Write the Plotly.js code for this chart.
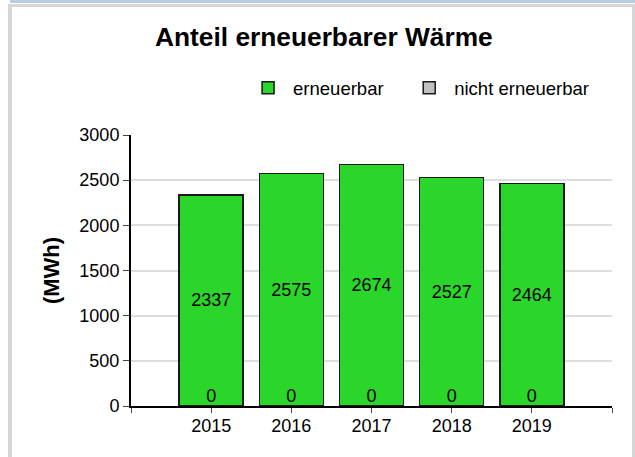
<!DOCTYPE html>
<html>
<head>
<meta charset="utf-8">
<script src="https://cdn.plot.ly/plotly-3.0.1.min.js"></script>
<style>
  body { margin: 0; background: #fff; width: 635px; height: 457px; overflow: hidden; position: relative; }
  #strip { position: absolute; left: 10px; top: 0; width: 625px; height: 3px; background: #b9cde4; }
  #frame { position: absolute; left: 8px; top: 4px; width: 620px; height: 453px;
           border-left: 4px solid #d6d6d6; border-top: 3px solid #d6d6d6; border-right: 3px solid #d6d6d6; }
  #plot { width: 620px; height: 450px; }
</style>
</head>
<body>
<div id="strip"></div>
<div id="frame"><div id="plot"></div></div>
<script>
// data
let years = [2015, 2016, 2017, 2018, 2019]
let erneuerbar = [2337, 2575, 2674, 2527, 2464]
let nichtErneuerbar = [0, 0, 0, 0, 0]
let seriesNames = ["erneuerbar", "nicht erneuerbar"]

// ticks incl. empty ones at both ends of the axis
let tickYears = [years[0] - 1].concat(years, [years[years.length - 1] + 1])
let tickText = tickYears.map(function (y) { return years.indexOf(y) >= 0 ? String(y) : "" })

let font = "Liberation Sans, Arial, sans-serif"

let trace1 = {
  x: years,
  y: erneuerbar,
  name: seriesNames[0],
  legend: "legend",
  type: "bar",
  width: 0.8,
  marker: { color: "#2bd62b", line: { color: "#1a1a1a", width: 1.5 } },
  text: erneuerbar.map(String),
  textposition: "inside",
  insidetextanchor: "middle",
  textangle: 0,
  textfont: { color: "#000", size: 18, family: font },
  hoverinfo: "x+y+name"
}
let trace2 = {
  x: years,
  y: nichtErneuerbar,
  name: seriesNames[1],
  legend: "legend2",
  type: "bar",
  width: 0.8,
  marker: { color: "#c0c0c0", line: { color: "#1a1a1a", width: 1.5 } },
  hoverinfo: "x+y+name"
}
// the zero values are printed at the foot of each bar
let trace3 = {
  x: years,
  y: nichtErneuerbar,
  mode: "text",
  type: "scatter",
  text: nichtErneuerbar.map(String),
  textposition: "top center",
  textfont: { color: "#000", size: 18, family: font },
  showlegend: false,
  hoverinfo: "skip"
}

let data = [trace1, trace2, trace3]

// one legend per series so each entry sits where the original has it
let legendBase = {
  orientation: "h",
  xanchor: "left",
  y: 1.173, yanchor: "middle",
  font: { size: 18.5, family: font },
  itemwidth: 40,
  itemclick: false
}

let layout = {
  width: 620,
  height: 450,
  paper_bgcolor: "#fff",
  plot_bgcolor: "#fff",
  font: { family: font, color: "#000" },
  barmode: "stack",
  margin: { l: 119, r: 20, t: 128, b: 51, pad: 0 },
  title: {
    text: "<b>Anteil erneuerbarer Wärme</b>",
    font: { size: 26.3, family: font, color: "#000" },
    x: 0.503, xanchor: "center",
    y: 0.933, yanchor: "middle", yref: "container"
  },
  showlegend: true,
  legend: Object.assign({}, legendBase, { x: 0.233 }),
  legend2: Object.assign({}, legendBase, { x: 0.568 }),
  xaxis: {
    range: [tickYears[0], tickYears[tickYears.length - 1]],
    tickvals: tickYears,
    ticktext: tickText,
    showgrid: false,
    zeroline: false,
    showline: true,
    linecolor: "#000",
    linewidth: 2,
    ticks: "outside",
    ticklen: 2,
    tickcolor: "#444",
    minor: { tick0: tickYears[0], dtick: 1, ticks: "outside", ticklen: 5, tickcolor: "#444" },
    tickfont: { size: 18, family: font },
    fixedrange: true
  },
  yaxis: {
    range: [0, 3000],
    dtick: 500,
    showgrid: true,
    gridcolor: "#dedede",
    gridwidth: 2,
    zeroline: false,
    showline: true,
    linecolor: "#000",
    linewidth: 2,
    ticks: "outside",
    ticklen: 6,
    tickcolor: "#444",
    tickfont: { size: 18, family: font },
    title: { text: "<b>(MWh)</b>", font: { size: 22, family: font }, standoff: 14 },
    fixedrange: true
  }
}

Plotly.newPlot("plot", data, layout, { displayModeBar: false, staticPlot: true })
</script>
</body>
</html>
